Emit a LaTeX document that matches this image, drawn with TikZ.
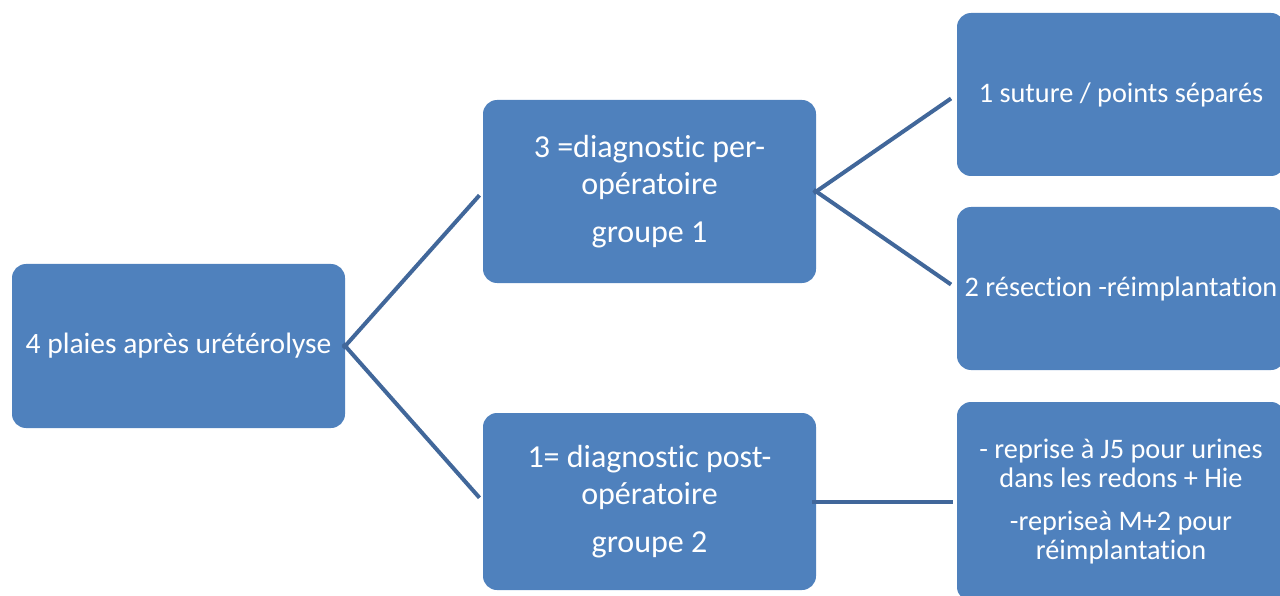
\documentclass[tikz,border=0pt]{standalone}
\usepackage{fontspec}
\setmainfont[Ligatures={NoCommon,NoContextual}]{Carlito}
\definecolor{boxblue}{HTML}{4F81BD}
\definecolor{lineblue}{HTML}{41679A}
\begin{document}
\begin{tikzpicture}[x=1pt,y=-1pt,
  box/.style={draw=none,fill=boxblue,rounded corners=14pt,text=white,align=center,
    inner sep=0pt},
  link/.style={draw=lineblue,line width=4pt}]
\useasboundingbox (0,0) rectangle (1280,596);
\node[box,minimum width=333pt,minimum height=164pt,font=\fontsize{29.5}{36}\selectfont] (root) at (178.5,346) {4 plaies après urétérolyse};
\node[box,minimum width=333pt,minimum height=183pt,font=\fontsize{32}{37}\selectfont] (m1) at (649.5,191.5) {3 =diagnostic per-\\opératoire\\[11pt]groupe 1};
\node[box,minimum width=333pt,minimum height=177pt,font=\fontsize{32}{37}\selectfont] (m2) at (649.5,501.5) {1= diagnostic post-\\opératoire\\[11pt]groupe 2};
\node[box,minimum width=328pt,minimum height=163pt,font=\fontsize{28.3}{34}\selectfont] (r1) at (1121,94.5) {1 suture / points séparés};
\node[box,minimum width=328pt,minimum height=163pt,font=\fontsize{28.3}{34}\selectfont] (r2) at (1121,288.5) {2 résection -réimplantation};
\node[box,minimum width=328pt,minimum height=199pt,font=\fontsize{28.3}{29}\selectfont] (r3) at (1121,501.5) {- reprise à J5 pour urines\\dans les redons + Hie\\[14pt]-repriseà M+2 pour\\réimplantation};
\draw[link,shorten <=-3pt,shorten >=5pt] (root.east) -- (m1.west);
\draw[link,shorten <=-3pt,shorten >=5pt] (root.east) -- (m2.west);
\draw[link,shorten <=-3pt,shorten >=7pt] (m1.east) -- (r1.west);
\draw[link,shorten <=-3pt,shorten >=7pt] (m1.east) -- (r2.west);
\draw[link,shorten <=-4pt,shorten >=4pt] (m2.east) -- (r3.west);
\end{tikzpicture}
\end{document}
